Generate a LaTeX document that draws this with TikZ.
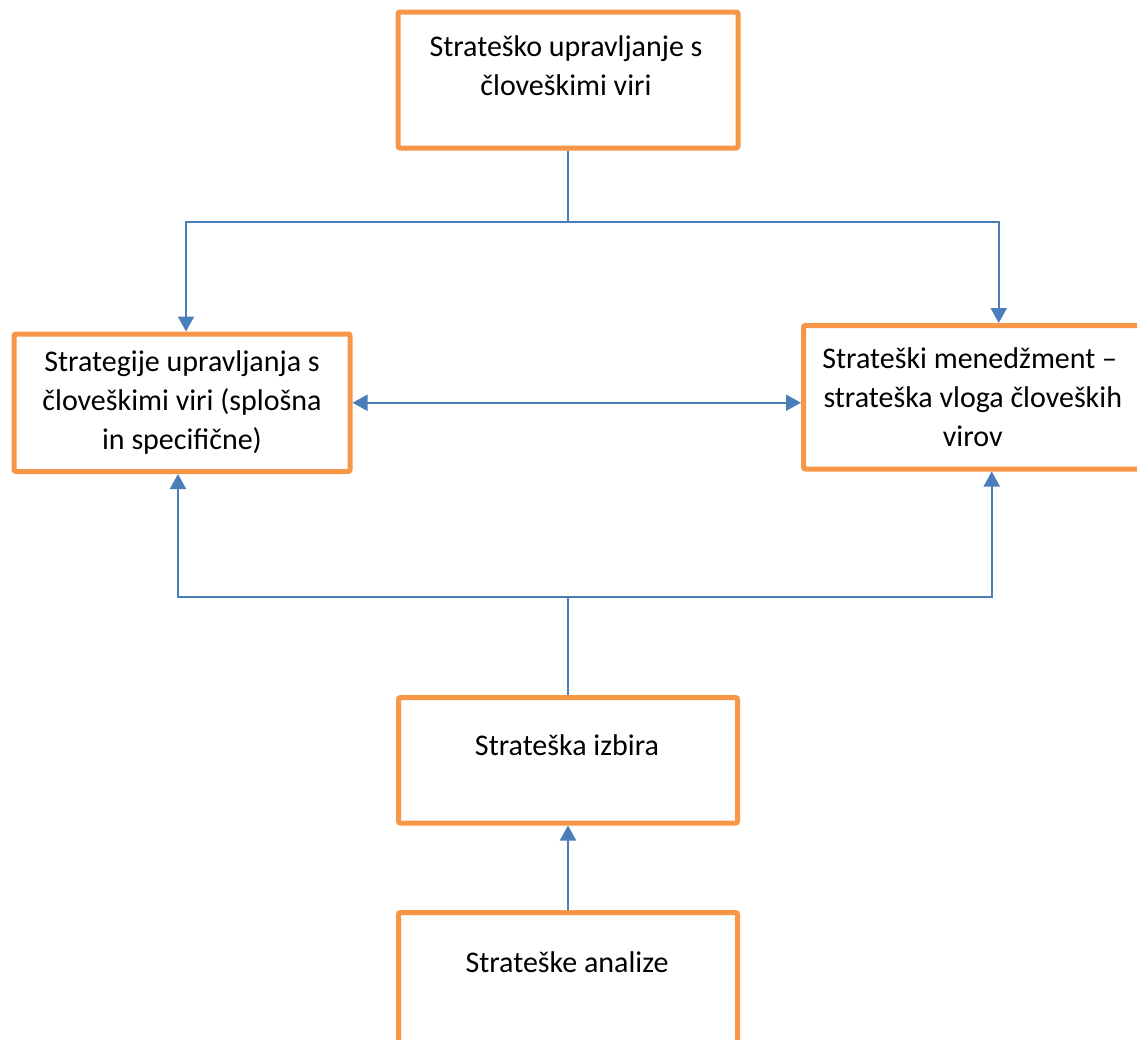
\documentclass[tikz,border=0pt]{standalone}
\usepackage{fontspec}
\setmainfont{Carlito}
\usetikzlibrary{arrows.meta,calc}
\definecolor{boxorange}{HTML}{F79646}
\definecolor{linkblue}{HTML}{4A7EBB}
\begin{document}
\begin{tikzpicture}[x=0.5pt,y=-0.5pt,
  box/.style={draw=boxorange,line width=2.5pt,rounded corners=1pt,fill=white,
    rectangle,inner sep=0pt,align=center,font=\fontsize{15}{19.5}\selectfont},
  lbl/.style={align=center,inner sep=0pt,font=\fontsize{15}{19.5}\selectfont},
  link/.style={draw=linkblue,line width=1pt},
  arr/.style={link,-{Triangle[length=7.5pt,width=8pt]}},
  darr/.style={link,{Triangle[length=7.5pt,width=8pt]}-{Triangle[length=7.5pt,width=8pt]}}]
\useasboundingbox (0,0) rectangle (1137,1040);
\clip (0,0) rectangle (1137,1040);

% boxes
\node[box,minimum width=170pt,minimum height=68pt] (hrm) at (568,80) {};
\node[lbl] (hrmtxt) at (566,66) {Strateško upravljanje s\\človeškimi viri};

\node[box,minimum width=168pt,minimum height=68.75pt] (strat) at (182,402.75)
  {Strategije upravljanja s\\človeškimi viri (splošna\\in specifične)};

\node[box,minimum width=169.25pt,minimum height=71.75pt] (mgmt) at (972.75,397.25)
  {\hspace*{-3pt}Strateški menedžment –\\strateška vloga človeških\\virov};

\node[box,minimum width=169.5pt,minimum height=62.75pt] (choice) at (568,760.25) {};
\node[lbl] (choicetxt) at (567,745) {Strateška izbira};

\node[box,minimum width=169.5pt,minimum height=68.75pt] (anal) at (568,981.25) {};
\node[lbl] (analtxt) at (567,962) {Strateške analize};

% junctions
\coordinate (jtop) at (568,222);
\coordinate (jbot) at (568,597);

% connectors
\draw[link] (hrm.south) -- (jtop);
\draw[arr] (jtop) -| ($(strat.north)+(4,0)$);
\draw[arr] (jtop) -| ($(mgmt.north)+(26,0)$);
\draw[darr] (strat.east) -- (strat.east -| mgmt.west);
\draw[link] (choice.north) -- (jbot);
\draw[arr] (jbot) -| ($(strat.south)+(-4,0)$);
\draw[arr] (jbot) -| ($(mgmt.south)+(19,0)$);
\draw[arr] (anal.north) -- (choice.south);
\end{tikzpicture}
\end{document}
